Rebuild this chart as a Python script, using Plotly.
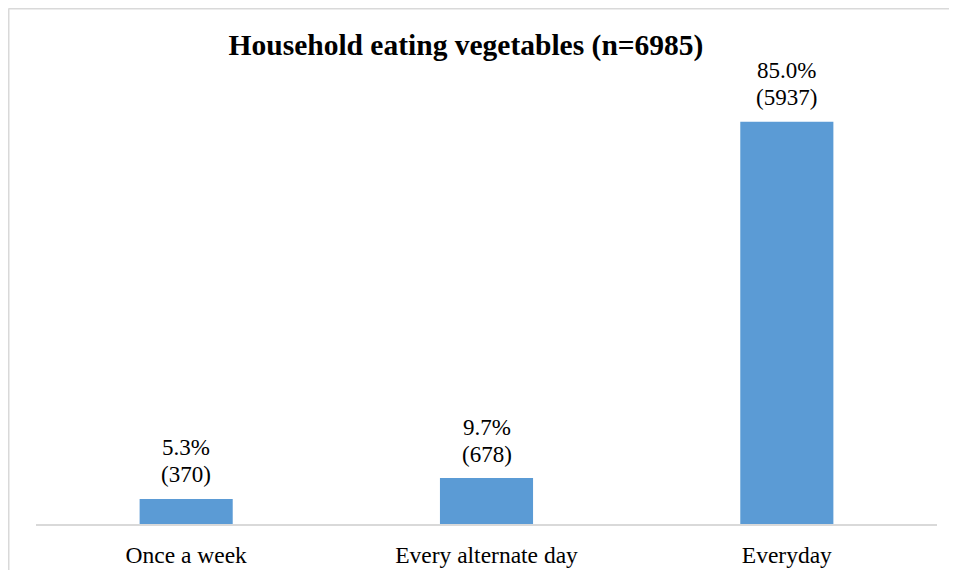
import plotly.graph_objects as go

categories = ["Once a week", "Every alternate day", "Everyday"]
percent = [5.3, 9.7, 85.0]
counts = [370, 678, 5937]
title_text = "Household eating vegetables (n=6985)"

SERIF = "Liberation Serif, Times New Roman, serif"

# the page body has an 8px margin; figure sized to avoid scrollbars
W, H = 949, 562
ml, mr, mt, mb = 28, 20, 90, 46
pw = W - ml - mr
ph = H - mt - mb

fig = go.Figure()
fig.add_trace(go.Bar(
    x=categories, y=percent,
    marker=dict(color="#5B9BD5", line=dict(width=0)),
    width=0.31,
    hoverinfo="skip",
))

# data labels: percentage line and count line above each bar
for cat, p, c in zip(categories, percent, counts):
    fig.add_annotation(x=cat, y=p, xref="x", yref="y", text=f"({c})",
                       showarrow=False, yanchor="middle", yshift=24,
                       font=dict(family=SERIF, size=23, color="#000000"))
    fig.add_annotation(x=cat, y=p, xref="x", yref="y", text=f"{p:.1f}%",
                       showarrow=False, yanchor="middle", yshift=51,
                       font=dict(family=SERIF, size=23, color="#000000"))

# outer chart border (light gray): left and top edges visible
bx = (0.5 - ml) / pw
by = (H - mb - 0.5) / ph
fig.add_shape(type="line", xref="paper", yref="paper",
              x0=bx, x1=(W + 20 - ml) / pw, y0=by, y1=by,
              line=dict(color="#D9D9D9", width=2), layer="below")
fig.add_shape(type="line", xref="paper", yref="paper",
              x0=bx, x1=bx, y0=-(mb + 20) / ph, y1=by,
              line=dict(color="#D9D9D9", width=2), layer="below")

fig.update_layout(
    width=W, height=H,
    margin=dict(l=ml, r=mr, t=mt, b=mb, autoexpand=False),
    paper_bgcolor="white", plot_bgcolor="white",
    showlegend=False,
    title=dict(text=f"<b>{title_text}</b>", x=458 / W, xanchor="center",
               y=1 - 37 / H, yanchor="middle",
               font=dict(family=SERIF, size=29.5, color="#000000")),
    xaxis=dict(showline=True, linecolor="#D9D9D9", linewidth=2, ticks="", showgrid=False,
               automargin=False,
               tickfont=dict(family=SERIF, size=23.5, color="#000000"),
               ticklabelstandoff=9),
    yaxis=dict(range=[0, 90], visible=False, showgrid=False, zeroline=False, automargin=False),
)

fig.write_html("out.html")
